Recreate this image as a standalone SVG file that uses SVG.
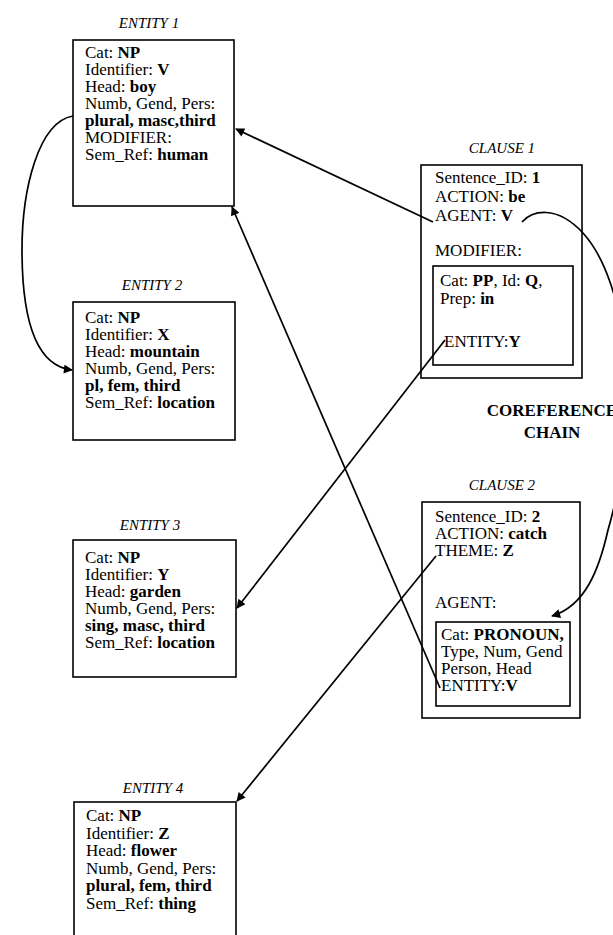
<svg xmlns="http://www.w3.org/2000/svg" width="613" height="935" viewBox="0 0 613 935">
<style>
text{font-family:"Liberation Serif","Times New Roman",serif;fill:#000}
.t{font-size:17px}
.b{font-weight:bold}
.ti{font-style:italic;font-size:15px;text-anchor:middle}
.cc{font-weight:bold;font-size:17px;text-anchor:middle}
.box{fill:none;stroke:#000;stroke-width:1.6}
#connectors path{fill:none;stroke:#000;stroke-width:1.7}
</style>
<defs>
<marker id="ah" viewBox="0 0 10 10" refX="9" refY="5" markerWidth="12" markerHeight="9" markerUnits="userSpaceOnUse" orient="auto"><path d="M0,0 L10,5 L0,10 z" fill="#000"/></marker>
</defs>
<rect width="613" height="935" fill="#fff"/>

<g id="entity1">
<text class="ti" x="149" y="28">ENTITY 1</text>
<rect class="box" x="73" y="40" width="161" height="166"/>
<text class="t" x="85" y="58">Cat: <tspan class="b">NP</tspan></text>
<text class="t" x="85" y="75">Identifier: <tspan class="b">V</tspan></text>
<text class="t" x="85" y="92">Head: <tspan class="b">boy</tspan></text>
<text class="t" x="85" y="109">Numb, Gend, Pers:</text>
<text class="t b" x="85" y="126">plural, masc,third</text>
<text class="t" x="85" y="143">MODIFIER:</text>
<text class="t" x="85" y="160">Sem_Ref: <tspan class="b">human</tspan></text>
</g>

<g id="entity2">
<text class="ti" x="152" y="290">ENTITY 2</text>
<rect class="box" x="73" y="302" width="162" height="138"/>
<text class="t" x="85" y="323">Cat: <tspan class="b">NP</tspan></text>
<text class="t" x="85" y="340">Identifier: <tspan class="b">X</tspan></text>
<text class="t" x="85" y="357">Head: <tspan class="b">mountain</tspan></text>
<text class="t" x="85" y="374">Numb, Gend, Pers:</text>
<text class="t b" x="85" y="391">pl, fem, third</text>
<text class="t" x="85" y="408">Sem_Ref: <tspan class="b">location</tspan></text>
</g>

<g id="entity3">
<text class="ti" x="150" y="530">ENTITY 3</text>
<rect class="box" x="73" y="540" width="163" height="137"/>
<text class="t" x="85" y="563">Cat: <tspan class="b">NP</tspan></text>
<text class="t" x="85" y="580">Identifier: <tspan class="b">Y</tspan></text>
<text class="t" x="85" y="597">Head: <tspan class="b">garden</tspan></text>
<text class="t" x="85" y="614">Numb, Gend, Pers:</text>
<text class="t b" x="85" y="631">sing, masc, third</text>
<text class="t" x="85" y="648">Sem_Ref: <tspan class="b">location</tspan></text>
</g>

<g id="entity4">
<text class="ti" x="153" y="793">ENTITY 4</text>
<rect class="box" x="74" y="802" width="162" height="150"/>
<text class="t" x="86" y="821">Cat: <tspan class="b">NP</tspan></text>
<text class="t" x="86" y="839">Identifier: <tspan class="b">Z</tspan></text>
<text class="t" x="86" y="856">Head: <tspan class="b">flower</tspan></text>
<text class="t" x="86" y="874">Numb, Gend, Pers:</text>
<text class="t b" x="86" y="891">plural, fem, third</text>
<text class="t" x="86" y="909">Sem_Ref: <tspan class="b">thing</tspan></text>
</g>

<g id="clause1">
<text class="ti" x="502" y="153">CLAUSE 1</text>
<rect class="box" x="421" y="165" width="161" height="213"/>
<text class="t" x="435" y="183">Sentence_ID: <tspan class="b">1</tspan></text>
<text class="t" x="435" y="202">ACTION: <tspan class="b">be</tspan></text>
<text class="t" x="435" y="221">AGENT: <tspan class="b">V</tspan></text>
<text class="t" x="435" y="256">MODIFIER:</text>
<rect class="box" x="433" y="266" width="140" height="99"/>
<text class="t" x="440" y="286">Cat: <tspan class="b">PP</tspan>, Id: <tspan class="b">Q</tspan>,</text>
<text class="t" x="440" y="304">Prep: <tspan class="b">in</tspan></text>
<text class="t" x="444" y="347">ENTITY:<tspan class="b">Y</tspan></text>
</g>

<g id="coreference-label">
<text class="cc" x="552" y="416">COREFERENCE</text>
<text class="cc" x="552" y="438">CHAIN</text>
</g>

<g id="clause2">
<text class="ti" x="502" y="490">CLAUSE 2</text>
<rect class="box" x="422" y="502" width="158" height="216"/>
<text class="t" x="435" y="522">Sentence_ID: <tspan class="b">2</tspan></text>
<text class="t" x="435" y="539">ACTION: <tspan class="b">catch</tspan></text>
<text class="t" x="435" y="556">THEME: <tspan class="b">Z</tspan></text>
<text class="t" x="435" y="608">AGENT:</text>
<rect class="box" x="436" y="622" width="134" height="84"/>
<text class="t" x="441" y="640">Cat: <tspan class="b">PRONOUN,</tspan></text>
<text class="t" x="441" y="657">Type, Num, Gend</text>
<text class="t" x="441" y="674">Person, Head</text>
<text class="t" x="441" y="691">ENTITY:<tspan class="b">V</tspan></text>
</g>

<g id="connectors">
<path d="M433,222 L236,129" marker-end="url(#ah)"/>
<path d="M440,688 L232,207" marker-end="url(#ah)"/>
<path d="M445,340 L237,608" marker-end="url(#ah)"/>
<path d="M436,556 L237,801" marker-end="url(#ah)"/>
<path d="M73,116 C38,122 22,190 22,250 C22,320 36,366 72,370" marker-end="url(#ah)"/>
<path d="M522,222 C532,211 556,204 583,233 C603,255 622,300 626,370 C630,440 618,495 608,530 C599,570 585,606 552,616" marker-end="url(#ah)"/>
</g>
</svg>
